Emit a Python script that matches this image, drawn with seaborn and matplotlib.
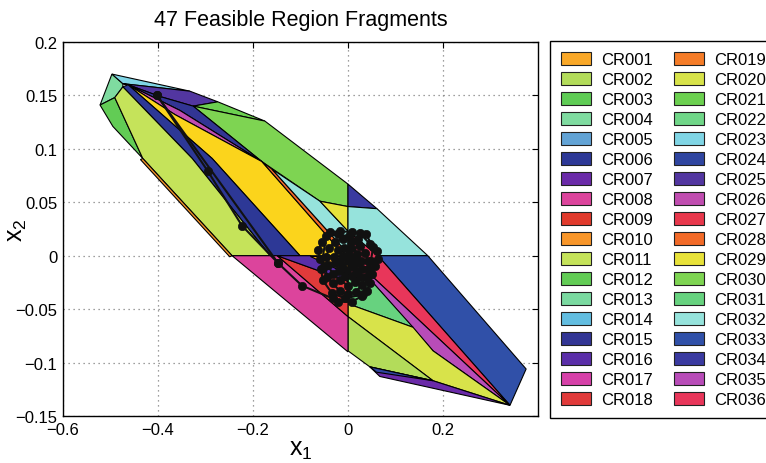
import matplotlib
matplotlib.use("Agg")
import matplotlib.pyplot as plt
import seaborn as sns
import pandas as pd
from matplotlib.patches import Patch

# ---------------- data ----------------
title_text = "47 Feasible Region Fragments"
xtick_values = [-0.6, -0.4, -0.2, 0.0, 0.2]
xtick_labels = ["\u22120.6", "\u22120.4", "\u22120.2", "0", "0.2"]
ytick_values = [-0.15, -0.1, -0.05, 0.0, 0.05, 0.1, 0.15, 0.2]
ytick_labels = ["\u22120.15", "\u22120.1", "\u22120.05", "0", "0.05", "0.1", "0.15", "0.2"]

legend_names = ["CR001", "CR002", "CR003", "CR004", "CR005", "CR006", "CR007", "CR008", "CR009",
                "CR010", "CR011", "CR012", "CR013", "CR014", "CR015", "CR016", "CR017", "CR018",
                "CR019", "CR020", "CR021", "CR022", "CR023", "CR024", "CR025", "CR026", "CR027",
                "CR028", "CR029", "CR030", "CR031", "CR032", "CR033", "CR034", "CR035", "CR036"]
legend_colors = ["#f9a828", "#b3dc5a", "#5fcc55", "#7fdba0", "#62a3d5", "#2d3896", "#6a2aa8", "#dc449c", "#e03a2c",
                 "#f8962a", "#c5e35a", "#62cc55", "#7ad9a0", "#62bde0", "#323594", "#5a2ea8", "#d640a8", "#e03a3a",
                 "#f57c28", "#d8e34a", "#6cd050", "#70d688", "#80d5e5", "#2f45a0", "#5236a0", "#c04db0", "#e8384c",
                 "#f26a28", "#e8e23a", "#7ed452", "#67d27f", "#96e3dc", "#3050a8", "#3a3aa0", "#b84cb8", "#e8365a"]
extra_names = ["CR037", "CR040"]
extra_colors = ["#fbd41c", "#96e3dc"]

# polygon regions (x1, x2 vertices)
region_ids = ["CR004", "CR012", "CR023", "CR025", "CR021", "CR030", "CR015", "CR026", "CR037",
              "CR006", "CR011", "CR010", "CR028", "CR040", "CR029", "CR034", "CR032", "CR033",
              "CR036", "CR035", "CR031", "CR020", "CR002", "CR007", "CR024", "CR008", "CR018",
              "CR016", "CR001"]
region_x = [
    [-0.497, -0.474, -0.474, -0.491, -0.522],
    [-0.522, -0.491, -0.432, -0.495],
    [-0.497, -0.333, -0.474],
    [-0.474, -0.333, -0.274, -0.326, -0.396, -0.463],
    [-0.326, -0.274, -0.175],
    [-0.326, -0.175, 0.0, 0.0, -0.059, -0.181],
    [-0.463, -0.396, -0.326, -0.181, -0.354],
    [-0.463, -0.354, -0.181, -0.364],
    [-0.463, -0.364, -0.181, -0.021, 0.0, -0.101, -0.286],
    [-0.474, -0.463, -0.286, -0.101, -0.164, -0.328],
    [-0.491, -0.474, -0.328, -0.164, -0.244, -0.432],
    [-0.432, -0.244, -0.249, -0.437],
    [-0.181, -0.160, -0.006, -0.021],
    [-0.160, -0.059, 0.0, 0.0, -0.006],
    [-0.059, 0.0, 0.0],
    [0.0, 0.061, 0.0],
    [0.0, 0.061, 0.168, 0.063, 0.0],
    [0.063, 0.168, 0.375, 0.341],
    [0.0, 0.063, 0.341, 0.055, 0.042, 0.0],
    [0.042, 0.055, 0.341, 0.179],
    [0.0, 0.042, 0.137, 0.0],
    [0.0, 0.137, 0.179, 0.341, 0.179, 0.0],
    [0.0, 0.179, 0.046, 0.0],
    [0.046, 0.179, 0.341, 0.067],
    [0.046, 0.179, 0.060],
    [-0.244, -0.149, 0.0, 0.0],
    [-0.149, 0.0, 0.0],
    [-0.149, -0.080, 0.0, 0.0],
    [-0.080, 0.0, 0.0],
]
region_y = [
    [0.170, 0.161, 0.158, 0.148, 0.141],
    [0.141, 0.148, 0.091, 0.121],
    [0.170, 0.154, 0.161],
    [0.161, 0.154, 0.144, 0.140, 0.149, 0.160],
    [0.140, 0.144, 0.126],
    [0.140, 0.126, 0.067, 0.046, 0.051, 0.088],
    [0.160, 0.149, 0.140, 0.088, 0.136],
    [0.160, 0.136, 0.088, 0.132],
    [0.160, 0.132, 0.088, 0.007, 0.0, 0.0, 0.091],
    [0.158, 0.160, 0.091, 0.0, 0.0, 0.091],
    [0.148, 0.158, 0.091, 0.0, 0.0, 0.091],
    [0.091, 0.0, -0.001, 0.090],
    [0.088, 0.081, 0.005, 0.007],
    [0.081, 0.051, 0.023, 0.0, 0.005],
    [0.051, 0.046, 0.023],
    [0.067, 0.044, 0.046],
    [0.046, 0.044, 0.0, 0.0, 0.023],
    [0.0, 0.0, -0.106, -0.140],
    [0.023, 0.0, -0.140, -0.021, -0.020, -0.021],
    [-0.020, -0.021, -0.140, -0.089],
    [-0.021, -0.020, -0.067, -0.045],
    [-0.045, -0.067, -0.089, -0.140, -0.117, -0.057],
    [-0.057, -0.117, -0.104, -0.089],
    [-0.104, -0.117, -0.140, -0.113],
    [-0.104, -0.117, -0.109],
    [0.0, 0.0, -0.057, -0.090],
    [0.0, -0.024, -0.057],
    [0.0, 0.0, -0.017, -0.024],
    [0.0, 0.0, -0.017],
]

# closed-loop state trajectory
traj_x1 = [-0.402, -0.295, -0.223, -0.147, -0.097, -0.032, -0.021,
           0.008, 0.029, 0.040, 0.046, 0.051, 0.057, 0.063, 0.061, 0.046, 0.025,
           0.008, -0.017, -0.038, -0.055, -0.063, -0.059, -0.048, -0.044, -0.032, -0.017,
           0.000, 0.017, 0.029, 0.038, 0.042, 0.042, 0.036, 0.025, 0.008, -0.011,
           -0.027, -0.040, -0.046, -0.042, -0.032, -0.017, 0.000, 0.015, 0.025, 0.029,
           0.027, 0.019, 0.006, -0.008, -0.021, -0.029, -0.027, -0.019, -0.006, 0.008,
           0.017, 0.019, 0.013, 0.002, -0.011, -0.017, -0.013, -0.002, 0.008,
           0.021, 0.038, 0.053, 0.048, 0.032, -0.006, -0.034, -0.053, -0.057, -0.046,
           -0.021, 0.002, 0.000]
traj_x2 = [0.150, 0.079, 0.028, -0.007, -0.028, -0.040, -0.043,
           -0.043, -0.038, -0.033, -0.026, -0.017, -0.010, -0.003, 0.004, 0.011, 0.021,
           0.022, 0.023, 0.022, 0.013, 0.005, -0.003, -0.010, -0.020, -0.026, -0.033,
           -0.036, -0.034, -0.027, -0.020, -0.012, -0.005, 0.003, 0.009, 0.014, 0.016,
           0.013, 0.007, -0.001, -0.009, -0.017, -0.023, -0.028, -0.025, -0.020, -0.012,
           -0.005, 0.002, 0.007, 0.007, 0.005, -0.001, -0.007, -0.014, -0.019, -0.019,
           -0.014, -0.007, -0.002, 0.001, 0.000, -0.005, -0.010, -0.013, -0.010,
           0.016, 0.020, 0.008, -0.005, -0.036, -0.040, -0.035, -0.023, -0.012, 0.018,
           0.020, 0.018, -0.005]
branch_x1 = [-0.402, -0.147]
branch_x2 = [0.150, -0.007]

# ---------------- style ----------------
sns.set_theme(style="white")
plt.rcParams["font.family"] = ["Liberation Sans", "DejaVu Sans"]
plt.rcParams["mathtext.fontset"] = "custom"
plt.rcParams["mathtext.rm"] = "Liberation Sans"
plt.rcParams["mathtext.it"] = "Liberation Sans"
plt.rcParams["text.color"] = "black"
plt.rcParams["axes.labelcolor"] = "black"
plt.rcParams["axes.titlecolor"] = "black"

palette = dict(zip(legend_names + extra_names, legend_colors + extra_colors))

fig = plt.figure(figsize=(7.66, 4.64), dpi=100)
ax = fig.add_axes([63 / 766, 1 - 417 / 464, 475 / 766, 374 / 464])

for rid, xs, ys in zip(region_ids, region_x, region_y):
    ax.fill(xs, ys, facecolor=palette[rid], edgecolor="black", linewidth=0.8, zorder=2)

df_main = pd.DataFrame({"x1": traj_x1, "x2": traj_x2, "run": "a"})
df_branch = pd.DataFrame({"x1": branch_x1, "x2": branch_x2, "run": "b"})
df = pd.concat([df_main, df_branch], ignore_index=True)
sns.lineplot(data=df, x="x1", y="x2", units="run", estimator=None, sort=False,
             color="#111111", linewidth=1.5, marker="o", markersize=6,
             markeredgecolor="#111111", markeredgewidth=0.5, ax=ax, zorder=5, legend=False)

ax.set_xlim(-0.6, 0.4)
ax.set_ylim(-0.15, 0.2)
ax.set_xticks(xtick_values)
ax.set_xticklabels(xtick_labels)
ax.set_yticks(ytick_values)
ax.set_yticklabels(ytick_labels)
ax.tick_params(direction="in", length=4, width=0.8, top=True, right=True,
               labelsize=12, colors="black", pad=4)
ax.grid(True, linestyle=(0, (1, 3)), color="#808080", linewidth=0.9)
ax.set_axisbelow(True)
for s in ax.spines.values():
    s.set_color("black")
    s.set_linewidth(1.0)

ax.set_xlabel(r"$\mathregular{x_1}$", fontsize=18, labelpad=0, color="black")
ax.set_ylabel(r"$\mathregular{x_2}$", fontsize=18, color="black")
ax.yaxis.set_label_coords(-0.072, 0.5)
ax.set_title(title_text, fontsize=15.5, pad=12, color="black")

handles = [Patch(facecolor=c, edgecolor="#222222", linewidth=0.8) for c in legend_colors]
leg = fig.legend(handles, legend_names, loc="upper left",
                 bbox_to_anchor=(550 / 766, 1 - 42 / 464), ncol=2, fontsize=12,
                 frameon=True, fancybox=False, edgecolor="black", framealpha=1,
                 handlelength=1.8, handleheight=0.8, handletextpad=0.6,
                 labelspacing=0.29, columnspacing=1.3, borderpad=0.65, borderaxespad=0)
leg.get_frame().set_linewidth(1.0)
for t in leg.get_texts():
    t.set_color("black")

fig.savefig("out.png", dpi=100)
